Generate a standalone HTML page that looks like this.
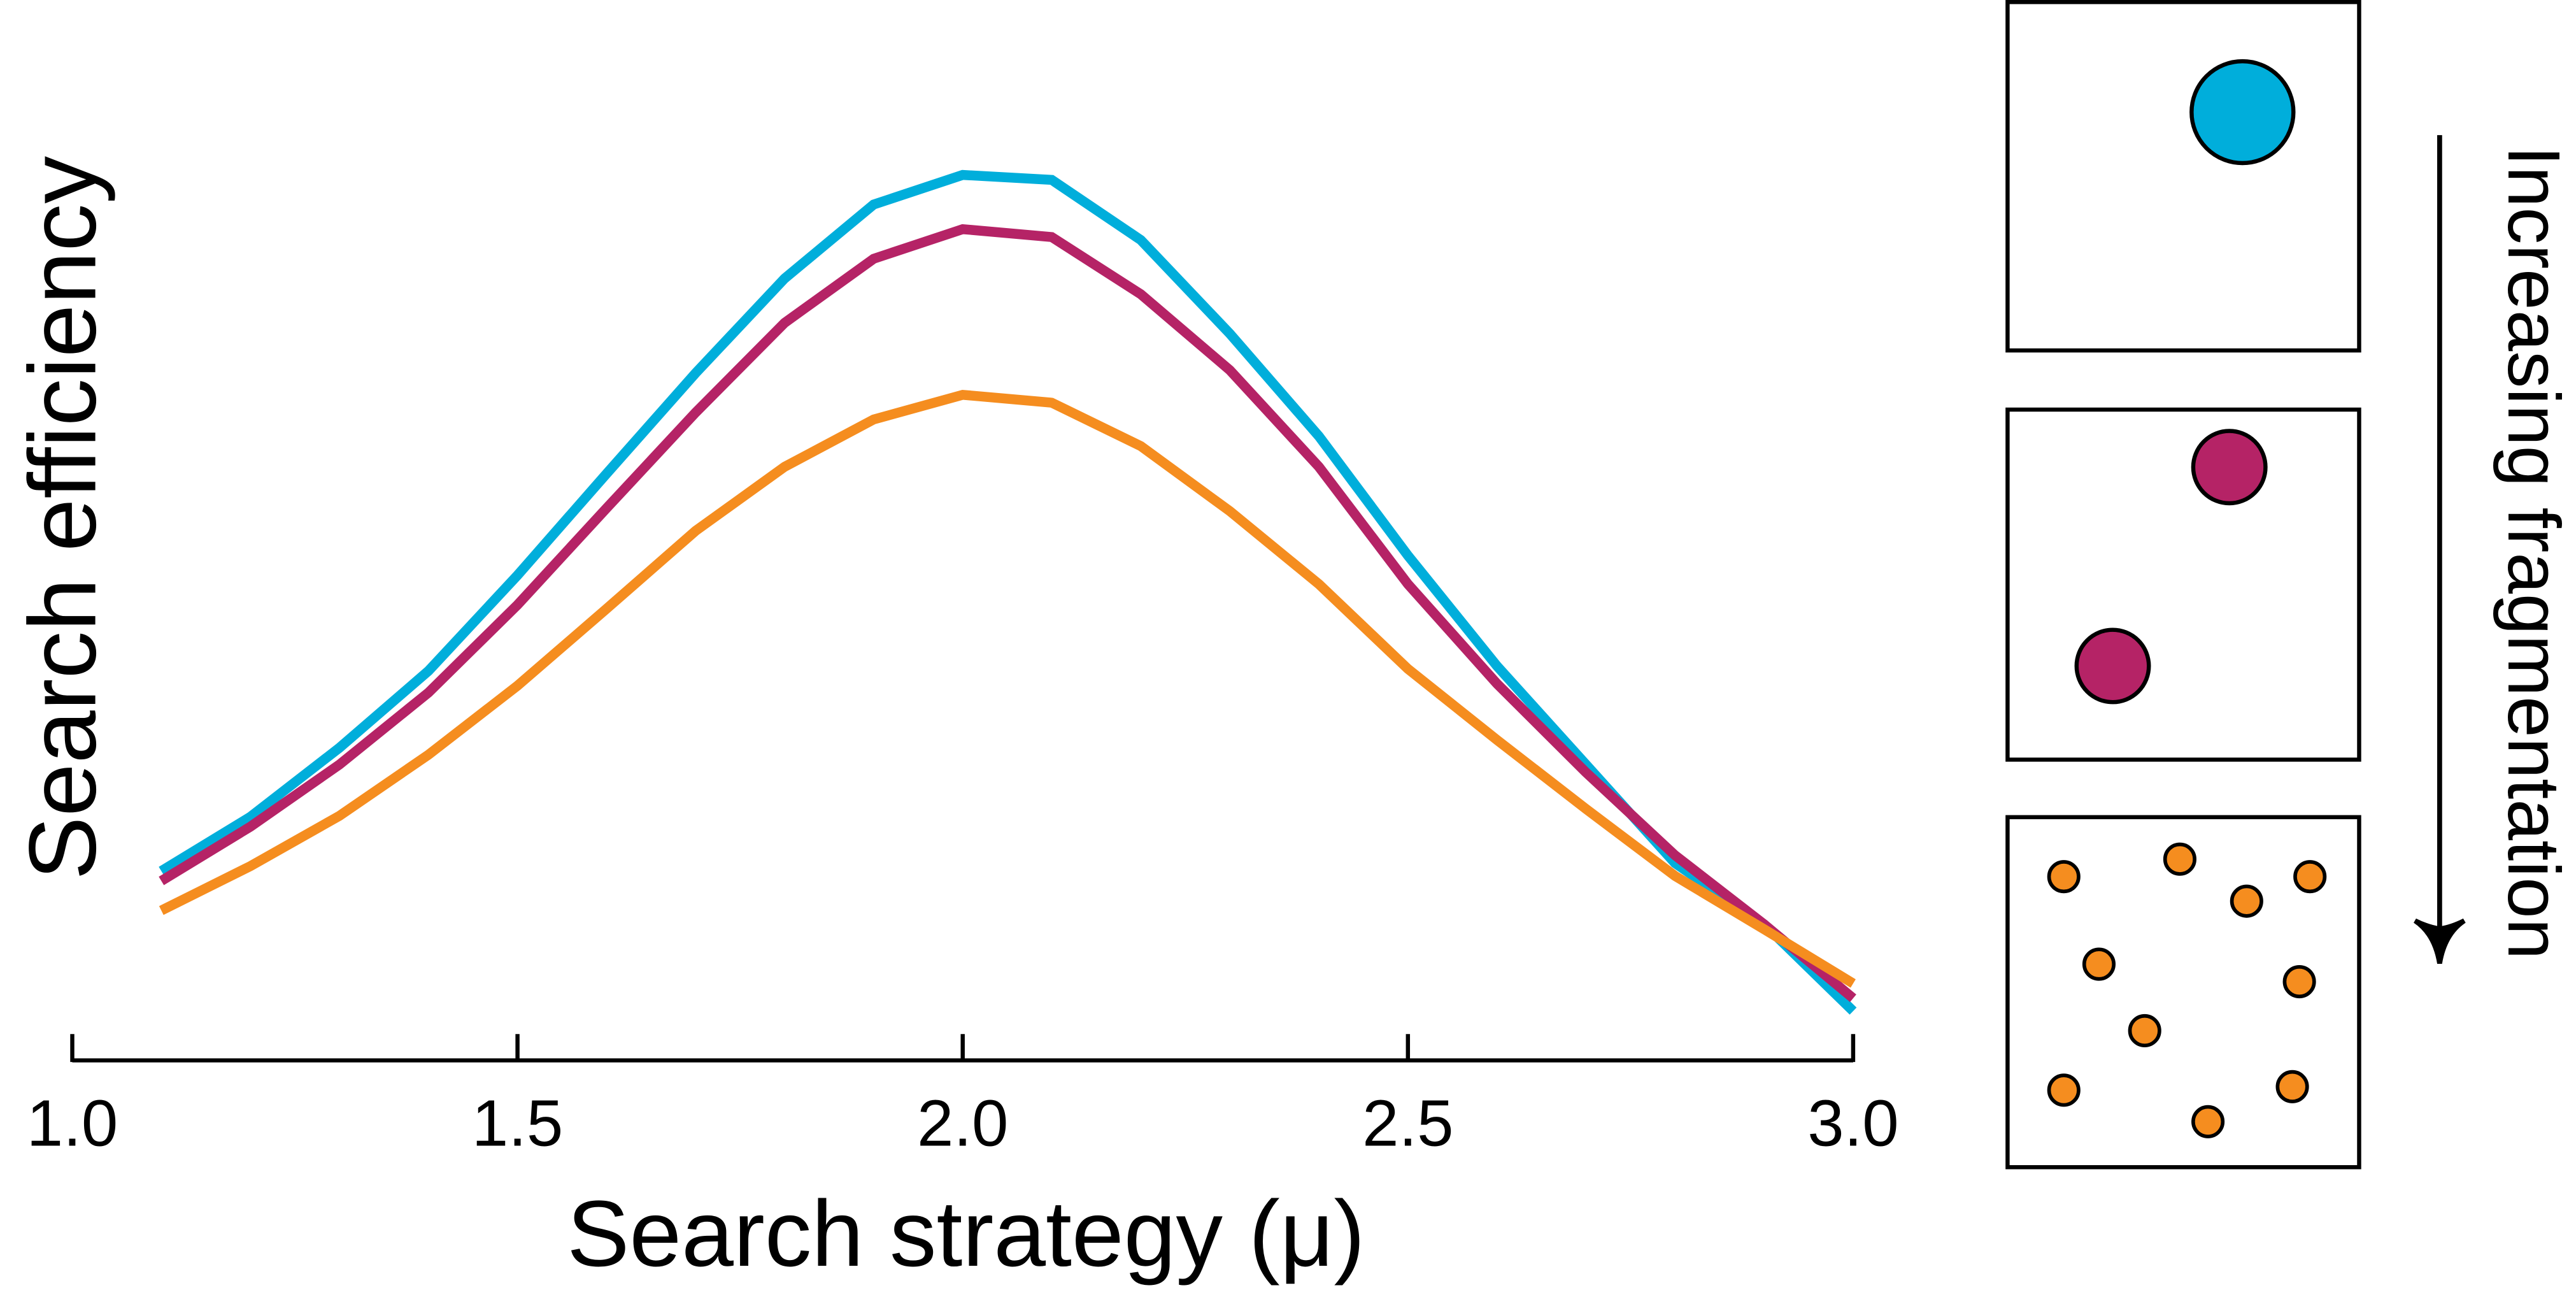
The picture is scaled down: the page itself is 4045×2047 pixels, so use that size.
<!DOCTYPE html>
<html><head><meta charset="utf-8"><style>html,body{margin:0;padding:0;background:#fff}svg{display:block}text{font-family:"Liberation Sans",sans-serif}</style></head>
<body>
<svg id="chart" width="4045" height="2047" viewBox="0 0 1568 793" xmlns="http://www.w3.org/2000/svg">
<g id="axis"></g>
<g id="lines"></g>
<text x="588" y="770" font-size="57" text-anchor="middle">Search strategy (μ)</text>
<text transform="translate(58,315) rotate(-90)" font-size="58" text-anchor="middle">Search efficiency</text>
<g fill="none" stroke="#000" stroke-width="2.5">
<rect x="1222" y="1" width="214" height="212"/>
<rect x="1222" y="249" width="214" height="213"/>
<rect x="1222" y="497" width="214" height="213"/>
</g>
<circle cx="1365" cy="68" r="31" fill="#00AEDB" stroke="#000" stroke-width="2.5"/>
<circle cx="1357" cy="284" r="22" fill="#B52366" stroke="#000" stroke-width="2.5"/>
<circle cx="1286" cy="405" r="22" fill="#B52366" stroke="#000" stroke-width="2.5"/>
<g id="small"></g>
<line x1="1485" y1="82" x2="1485" y2="575" stroke="#000" stroke-width="3"/>
<path d="M1470,560 Q1482,568 1485,586 Q1488,568 1500,560 Q1492,564 1485,565 Q1478,564 1470,560Z" fill="#000" stroke="#000" stroke-width="3"/>
<text transform="translate(1527,336) rotate(90)" font-size="45" text-anchor="middle">Increasing fragmentation</text>
</svg>
<script>
const xValues=[1.1,1.2,1.3,1.4,1.5,1.6,1.7,1.8,1.9,2.0,2.1,2.2,2.3,2.4,2.5,2.6,2.7,2.8,2.9,3.0];
const blueValues=[0.217,0.272,0.342,0.420,0.517,0.620,0.722,0.818,0.893,0.923,0.918,0.857,0.762,0.658,0.537,0.425,0.325,0.225,0.163,0.075];
const purpleValues=[0.207,0.262,0.325,0.398,0.487,0.585,0.682,0.773,0.838,0.868,0.860,0.802,0.725,0.627,0.508,0.407,0.317,0.233,0.163,0.088];
const orangeValues=[0.177,0.222,0.273,0.335,0.405,0.483,0.562,0.627,0.675,0.700,0.692,0.648,0.582,0.508,0.422,0.350,0.280,0.212,0.158,0.103];
const xTicks=[1.0,1.5,2.0,2.5,3.0];
const xTickLabels=["1.0","1.5","2.0","2.5","3.0"];
const smallPatches=[[0.16,0.17],[0.49,0.12],[0.68,0.24],[0.86,0.17],[0.26,0.42],[0.83,0.47],[0.39,0.61],[0.16,0.78],[0.57,0.87],[0.81,0.77]];
const NS="http://www.w3.org/2000/svg";
function xs(v){return 44+(v-1)*(1128-44)/2;}
function ys(v){return 660-v*600;}
const ax=document.getElementById('axis');
function mk(t,a,p){const e=document.createElementNS(NS,t);for(const k in a)e.setAttribute(k,a[k]);p.appendChild(e);return e;}
const base=mk('line',{x1:44,y1:645,x2:1128,y2:645,stroke:'#000','stroke-width':2.5},ax);


xTicks.forEach((t,i)=>{
 const l=mk('line',{x1:xs(t),y1:629,x2:xs(t),y2:646,stroke:'#000','stroke-width':2.5},ax);
 
 
 const tx=mk('text',{x:xs(t),y:697,'font-size':40,'text-anchor':'middle'},ax);
 
 
 tx.textContent=xTickLabels[i];
});
const lg=document.getElementById('lines');
[[blueValues,'#00AEDB','line-intact'],[purpleValues,'#B52366','line-two-fragments'],[orangeValues,'#F58D1F','line-many-fragments']].forEach(([vals,c,n])=>{
 const d=vals.map((v,i)=>(i?'L':'M')+xs(xValues[i]).toFixed(1)+','+ys(v).toFixed(1)).join(' ');
 const p=mk('path',{d:d,fill:'none',stroke:c,'stroke-width':6,'stroke-linejoin':'miter'},lg);
 
 
});
const sg=document.getElementById('small');
smallPatches.forEach(([fx,fy])=>{
 const c=mk('circle',{cx:1222+fx*214,cy:497+fy*213,r:9,fill:'#F58D1F',stroke:'#000','stroke-width':2.2},sg);
 
 
});
</script>
</body></html>
